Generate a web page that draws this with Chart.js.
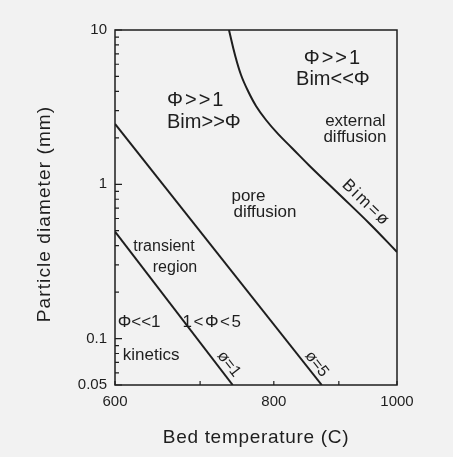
<!DOCTYPE html>
<html>
<head>
<meta charset="utf-8">
<script src="https://cdn.jsdelivr.net/npm/chart.js@4"></script>
<style>
  html, body { margin: 0; padding: 0; background: #f2f2f2; }
  canvas { display: block; }
</style>
</head>
<body>
<canvas id="regimeChart" width="453" height="457"></canvas>
<script>
// boundary lines, bed temperature (C) vs particle diameter (mm)
const phi1Temp = [600, 742.6];
const phi1Diam = [0.493, 0.05];
const phi5Temp = [600, 872.6];
const phi5Diam = [2.46, 0.05];
const bimTemp = [737.6, 745.7, 753.9, 763.5, 774.6, 788.8, 806.1, 826.7, 854.1, 901.8, 952.1, 1000];
const bimDiam = [10, 6.89, 5.11, 4.02, 3.22, 2.61, 2.12, 1.72, 1.31, 0.852, 0.553, 0.364];

const xTicks = [600, 700, 800, 900, 1000];
const xLabels = [600, 800, 1000];
const yTicks = [0.05, 0.06, 0.07, 0.08, 0.09,
                0.1, 0.2, 0.3, 0.4, 0.5, 0.6, 0.7, 0.8, 0.9,
                1, 2, 3, 4, 5, 6, 7, 8, 9, 10];
const yLabels = [0.05, 0.1, 1, 10];

const xTitle = 'Bed temperature (C)';
const yTitle = 'Particle diameter (mm)';

const INK = '#1e1e1e';
const FONT = '"Liberation Sans", Arial, sans-serif';

// region notes placed in data coordinates
const notes = [
    { text: 'Φ>>1', t: 659.3, d: 3.47, size: 20, align: 'left', spacing: 2 },
    { text: 'Bim>>Φ', t: 659.3, d: 2.50, size: 20, align: 'left', spacing: 0 },
    { text: 'Φ>>1', t: 890.4, d: 6.49, size: 20, align: 'center', spacing: 2 },
    { text: 'Bim<<Φ', t: 890.4, d: 4.81, size: 20, align: 'center', spacing: 0 },
    { text: 'external', t: 927.4, d: 2.57, size: 17 },
    { text: 'diffusion', t: 926.6, d: 2.03, size: 17 },
    { text: 'pore', t: 764.1, d: 0.840, size: 17 },
    { text: 'diffusion', t: 787.3, d: 0.661, size: 17 },
    { text: 'transient', t: 655.7, d: 0.392, size: 16 },
    { text: 'region', t: 668.9, d: 0.287, size: 16 },
    { text: 'Φ<<1', t: 626.8, d: 0.128, size: 17 },
    { text: '1<Φ<5', t: 715.9, d: 0.128, size: 17, spacing: 1.5 },
    { text: 'kinetics', t: 640.5, d: 0.0783, size: 17 },
    { text: 'ø=1', t: 737.5, d: 0.0684, size: 16, angle: 52 },
    { text: 'ø=5', t: 864.5, d: 0.0684, size: 16, angle: 52 },
    { text: 'Bim=ø', t: 945.3, d: 0.756, size: 17, angle: 44, spacing: 2 }
];

function toPoints(xs, ys) {
    return xs.map((x, i) => ({ x: x, y: ys[i] }));
}

const paperPlugin = {
    id: 'paper',
    beforeDraw(chart) {
        const ctx = chart.ctx;
        ctx.save();
        ctx.fillStyle = '#f2f2f2';
        ctx.fillRect(0, 0, chart.width, chart.height);
        ctx.restore();
    }
};

const framePlugin = {
    id: 'frame',
    afterDraw(chart) {
        const { ctx, chartArea: a, scales: { x, y } } = chart;
        ctx.save();
        ctx.strokeStyle = INK;
        ctx.lineWidth = 1.5;
        ctx.strokeRect(a.left, a.top, a.right - a.left, a.bottom - a.top);

        // ticks point inward
        ctx.lineWidth = 1.2;
        ctx.beginPath();
        yTicks.forEach(v => {
            const py = y.getPixelForValue(v);
            const len = yLabels.includes(v) ? 7 : 4;
            ctx.moveTo(a.left, py);
            ctx.lineTo(a.left + len, py);
        });
        xTicks.forEach(v => {
            const px = x.getPixelForValue(v);
            ctx.moveTo(px, a.bottom);
            ctx.lineTo(px, a.bottom - 4);
        });
        ctx.stroke();

        ctx.fillStyle = INK;
        ctx.textBaseline = 'middle';
        notes.forEach(n => {
            ctx.save();
            ctx.font = n.size + 'px ' + FONT;
            ctx.letterSpacing = (n.spacing || 0) + 'px';
            ctx.textAlign = n.align || 'center';
            ctx.translate(x.getPixelForValue(n.t), y.getPixelForValue(n.d));
            if (n.angle) ctx.rotate(n.angle * Math.PI / 180);
            ctx.fillText(n.text, 0, 0);
            ctx.restore();
        });

        // axis titles
        ctx.font = '19px ' + FONT;
        ctx.textAlign = 'center';
        ctx.letterSpacing = '0.7px';
        ctx.fillText(xTitle, (a.left + a.right) / 2, 438);
        ctx.save();
        ctx.letterSpacing = '1.1px';
        ctx.translate(45, 214);
        ctx.rotate(-Math.PI / 2);
        ctx.fillText(yTitle, 0, 0);
        ctx.restore();
        ctx.restore();
    }
};

const lineStyle = {
    showLine: true,
    borderColor: INK,
    borderWidth: 2,
    pointRadius: 0,
    fill: false
};

new Chart(document.getElementById('regimeChart').getContext('2d'), {
    type: 'scatter',
    data: {
        datasets: [
            Object.assign({ label: 'phi = 1', data: toPoints(phi1Temp, phi1Diam) }, lineStyle),
            Object.assign({ label: 'phi = 5', data: toPoints(phi5Temp, phi5Diam) }, lineStyle),
            Object.assign({ label: 'Bim = phi', data: toPoints(bimTemp, bimDiam), tension: 0.4 }, lineStyle)
        ]
    },
    options: {
        responsive: false,
        animation: false,
        layout: { padding: { top: 30, right: 56, left: 0, bottom: 0 } },
        plugins: {
            legend: { display: false },
            tooltip: { enabled: false }
        },
        scales: {
            x: {
                type: 'logarithmic',
                min: 600,
                max: 1000,
                grid: { display: false },
                border: { display: false },
                afterBuildTicks: scale => { scale.ticks = xTicks.map(v => ({ value: v })); },
                afterFit: scale => { scale.height = 72; },
                ticks: {
                    autoSkip: false,
                    maxRotation: 0,
                    padding: 0,
                    color: INK,
                    font: { family: FONT, size: 15 },
                    callback: v => xLabels.includes(v) ? String(v) : ''
                }
            },
            y: {
                type: 'logarithmic',
                min: 0.05,
                max: 10,
                grid: { display: false },
                border: { display: false },
                afterBuildTicks: scale => { scale.ticks = yTicks.map(v => ({ value: v })); },
                afterFit: scale => { scale.width = 115; },
                ticks: {
                    autoSkip: false,
                    padding: 0,
                    color: INK,
                    font: { family: FONT, size: 15 },
                    callback: v => yLabels.includes(v) ? String(v) : ''
                }
            }
        }
    },
    plugins: [paperPlugin, framePlugin]
});
</script>
</body>
</html>
